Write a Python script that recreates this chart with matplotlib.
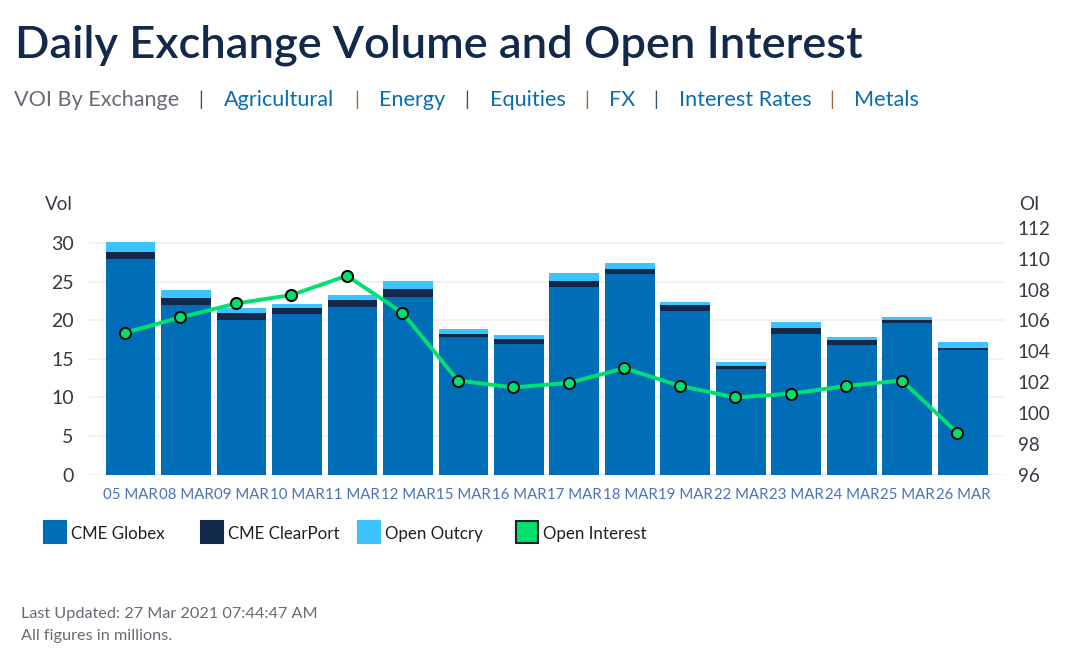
import matplotlib
matplotlib.use('Agg')
from matplotlib import pyplot as plt
from matplotlib.patches import Rectangle
import numpy as np

dates = ['05 MAR', '08 MAR', '09 MAR', '10 MAR', '11 MAR', '12 MAR', '15 MAR', '16 MAR',
         '17 MAR', '18 MAR', '19 MAR', '22 MAR', '23 MAR', '24 MAR', '25 MAR', '26 MAR']
globex = [28.0, 22.0, 20.0, 20.8, 21.8, 23.0, 17.8, 17.0,
          24.4, 26.0, 21.2, 13.75, 18.25, 16.8, 19.7, 16.1]
clearport = [0.9, 0.9, 1.0, 0.75, 0.9, 1.1, 0.5, 0.6,
             0.7, 0.7, 0.8, 0.35, 0.75, 0.65, 0.4, 0.3]
outcry = [1.3, 1.0, 0.55, 0.55, 0.6, 1.0, 0.6, 0.5,
          1.0, 0.8, 0.4, 0.47, 0.85, 0.4, 0.4, 0.75]
open_interest = [105.2, 106.2, 107.1, 107.65, 108.9, 106.5, 102.1, 101.65,
                 101.95, 102.9, 101.75, 101.0, 101.25, 101.75, 102.1, 98.7]
vol_ticks = [0, 5, 10, 15, 20, 25, 30]
oi_ticks = [96, 98, 100, 102, 104, 106, 108, 110, 112]

nav_links = ['Agricultural', 'Energy', 'Equities', 'FX', 'Interest Rates', 'Metals']
nav_x = [224, 379, 490, 609, 679, 854]
nav_sep_x = [201, 357, 467, 587, 656, 832]
nav_sep_colors = ['#33536f', '#a0663c', '#33536f', '#a0663c', '#33536f', '#a0663c']

legend_labels = ['CME Globex', 'CME ClearPort', 'Open Outcry', 'Open Interest']
legend_colors = ['#006eb6', '#12294b', '#3cc2ff', '#00e070']
legend_x = [44, 201, 358, 516]

W, H = 1068, 655
BLUE, NAVY, SKY, GREEN = legend_colors

plt.rcParams['font.family'] = ['Lato', 'DejaVu Sans']


def fx(x):
    return x / W


def fy(y):
    return 1 - y / H


def label(x, y, s, **kw):
    # y is the text baseline in pixels from the top
    fig.text(fx(x), fy(y), s, va='baseline', **kw)


fig = plt.figure(figsize=(W / 100, H / 100), dpi=100)
ax = fig.add_axes([fx(89), fy(474.5), fx(1004 - 89), (474.5 - 228) / H])

x = np.arange(len(dates))
g = np.array(globex)
c = np.array(clearport)
o = np.array(outcry)
ax.bar(x, g, width=0.9, color=BLUE, zorder=2)
ax.bar(x, c, width=0.9, bottom=g, color=NAVY, zorder=2)
ax.bar(x, o, width=0.9, bottom=g + c, color=SKY, zorder=2)

ax.set_xlim(-0.748, 15.74)
ax.set_ylim(0, 32)
ax.set_xticks(x, dates)
ax.set_yticks(vol_ticks)
ax.grid(axis='y', color='#f2f2f2', linewidth=1.5, zorder=0)
ax.set_axisbelow(True)
ax.tick_params(axis='x', length=0, pad=10, labelsize=10.8, labelcolor='#4a72b8')
ax.tick_params(axis='y', length=0, pad=11, labelsize=14, labelcolor='#333a44')
for spine in ax.spines.values():
    spine.set_visible(False)

ax2 = ax.twinx()
ax2.plot(x - 0.1, open_interest, color=GREEN, linewidth=2.8, marker='o', markersize=8,
         markerfacecolor=GREEN, markeredgecolor='black', markeredgewidth=1.4, zorder=5)
ax2.set_ylim(96, 112)
ax2.set_yticks(oi_ticks)
ax2.tick_params(axis='y', length=0, pad=10, labelsize=13.5, labelcolor='#333a44')
for spine in ax2.spines.values():
    spine.set_visible(False)

# axis captions
label(45, 210, 'Vol', fontsize=13.5, color='#333a44')
label(1019, 210, 'OI', fontsize=13.5, color='#333a44')

# header
label(15, 58, 'Daily Exchange Volume and Open Interest', fontsize=32.55,
      fontweight='semibold', color='#12294b')
label(14, 106, 'VOI By Exchange', fontsize=15.6, color='#666b75')
for name, nx_, sx, sc in zip(nav_links, nav_x, nav_sep_x, nav_sep_colors):
    label(nx_, 106, name, fontsize=15.6, color='#0a6cb0')
    label(sx, 106, '|', fontsize=14, color=sc, ha='center')

# legend
for name, lx, col in zip(legend_labels, legend_x, legend_colors):
    edge = '#222222' if name == 'Open Interest' else col
    fig.add_artist(Rectangle((fx(lx), fy(543)), 22 / W, 22 / H, transform=fig.transFigure,
                             facecolor=col, edgecolor=edge, linewidth=1.5))
    label(lx + 27, 539, name, fontsize=12.2, color='#1c2026')

# footer
label(21, 618, 'Last Updated: 27 Mar 2021 07:44:47 AM', fontsize=11.7, color='#666b75')
label(21, 640, 'All figures in millions.', fontsize=11.7, color='#666b75')

fig.savefig('out.png', dpi=100)
